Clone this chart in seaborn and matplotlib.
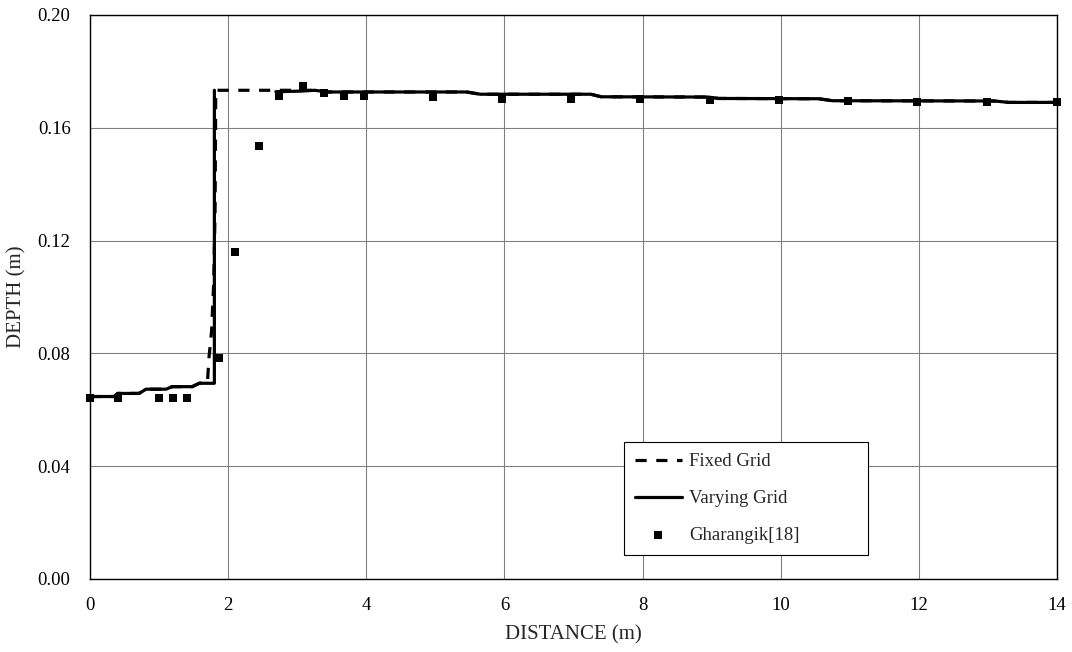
import numpy as np
import pandas as pd
import matplotlib
matplotlib.use("Agg")
import matplotlib.pyplot as plt
import seaborn as sns

# ---------------- data ----------------
# Varying grid (solid) – lower segment and upper segment (gap in between as in source)
vary_low_x = [0.0, 0.35, 0.40, 0.71, 0.81, 1.10, 1.19, 1.48, 1.58, 1.80, 1.80]
vary_low_y = [0.0647, 0.0647, 0.0658, 0.0658, 0.0673, 0.0673, 0.0682, 0.0682, 0.0694, 0.0694, 0.1733]
vary_up_x = [2.69, 3.05, 3.25, 3.45, 5.45, 5.65, 7.25, 7.40, 8.95, 9.10, 10.55, 10.75, 13.10, 13.30, 14.0]
vary_up_y = [0.1728, 0.1730, 0.1733, 0.1727, 0.1727, 0.1719, 0.1719, 0.1710, 0.1709, 0.1704, 0.1703, 0.1696, 0.1695, 0.1690, 0.1690]

# Fixed grid (dashed)
fixed_x = [0.0, 0.35, 0.40, 0.71, 0.81, 1.10, 1.19, 1.48, 1.58, 1.70, 1.72, 1.76, 1.79, 1.81, 1.82,
           2.69, 3.05, 3.25, 3.45, 5.45, 5.65, 7.25, 7.40, 8.95, 9.10, 10.55, 10.75, 13.10, 13.30, 14.0]
fixed_y = [0.0647, 0.0647, 0.0658, 0.0658, 0.0673, 0.0673, 0.0682, 0.0682, 0.0694, 0.0697, 0.0780,
           0.0880, 0.1050, 0.1300, 0.1733,
           0.1733, 0.1733, 0.1733, 0.1727, 0.1727, 0.1719, 0.1719, 0.1710, 0.1709, 0.1704, 0.1703,
           0.1696, 0.1695, 0.1690, 0.1690]

# Gharangik [18] measurements
gh_x = [0.0, 0.40, 1.0, 1.2, 1.4, 1.87, 2.10, 2.45, 2.74, 3.08, 3.39, 3.67, 3.96,
        4.96, 5.97, 6.96, 7.96, 8.97, 9.97, 10.97, 11.97, 12.98, 14.0]
gh_y = [0.0641, 0.0641, 0.0641, 0.0641, 0.0641, 0.0782, 0.1161, 0.1534, 0.1712, 0.1747,
        0.1724, 0.1712, 0.1712, 0.1708, 0.1703, 0.1703, 0.1702, 0.1700, 0.1697, 0.1695,
        0.1693, 0.1690, 0.1690]

x_ticks = [0, 2, 4, 6, 8, 10, 12, 14]
y_ticks = [0.00, 0.04, 0.08, 0.12, 0.16, 0.20]

# ---------------- style ----------------
sns.set_style("white")
plt.rcParams['font.family'] = ['Liberation Serif', 'DejaVu Serif']
plt.rcParams['font.size'] = 13

fig = plt.figure(figsize=(10.72, 6.52), dpi=100)
ax = fig.add_axes([0.084, 0.112, 0.902, 0.865])

df_fixed = pd.DataFrame({"x": fixed_x, "y": fixed_y})
df_vary = pd.DataFrame({
    "x": vary_low_x + vary_up_x,
    "y": vary_low_y + vary_up_y,
    "seg": [0] * len(vary_low_x) + [1] * len(vary_up_x),
})
df_gh = pd.DataFrame({"x": gh_x, "y": gh_y})

sns.lineplot(data=df_fixed, x="x", y="y", ax=ax, color="black", lw=2.3,
             linestyle=(0, (3.5, 3)), sort=False, estimator=None, label="Fixed Grid")
sns.lineplot(data=df_vary, x="x", y="y", units="seg", ax=ax, color="black", lw=2.3,
             sort=False, estimator=None, label="Varying Grid")
sns.scatterplot(data=df_gh, x="x", y="y", ax=ax, marker="s", s=40, color="black",
                edgecolor="black", linewidth=0, label="Gharangik[18]", zorder=5,
                clip_on=False)

ax.set_xlim(0, 14)
ax.set_ylim(0, 0.20)
ax.set_xticks(x_ticks)
ax.set_yticks(y_ticks)
ax.set_xticklabels([str(t) for t in x_ticks])
ax.set_yticklabels([f"{t:.2f}" for t in y_ticks])
ax.tick_params(axis="both", length=0, labelsize=13.5, colors="black")
ax.tick_params(axis="x", pad=13)
ax.tick_params(axis="y", pad=14)

ax.grid(True, color="#808080", lw=0.8)
ax.set_axisbelow(True)
for sp in ax.spines.values():
    sp.set_visible(True)
    sp.set_color("black")
    sp.set_linewidth(1.0)

ax.set_xlabel("DISTANCE (m)", fontsize=15, labelpad=8)
ax.set_ylabel("DEPTH (m)", fontsize=15, labelpad=8)

# one legend entry per series
handles, labels = ax.get_legend_handles_labels()
uh, ul = [], []
for h, l in zip(handles, labels):
    if l not in ul:
        uh.append(h)
        ul.append(l)
leg = ax.legend(uh, ul, loc="upper left", bbox_to_anchor=(0.552, 0.243, 0.253, 0.0), mode="expand",
                frameon=True, fancybox=False, edgecolor="black", framealpha=1,
                fontsize=13.5, labelspacing=1.05, handlelength=2.5, handletextpad=0.4,
                borderpad=0.6, borderaxespad=0)
leg.get_frame().set_linewidth(0.8)

fig.savefig("out.png", dpi=100)
